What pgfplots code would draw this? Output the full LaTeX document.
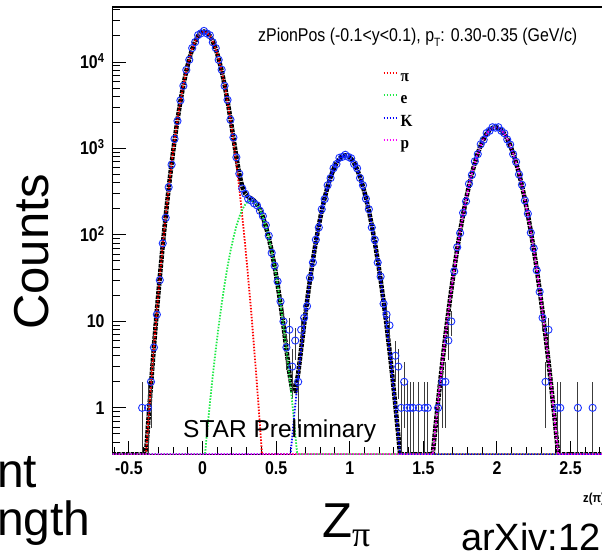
\documentclass[border=0pt]{standalone}
\usepackage{fontspec}
\setmainfont{Liberation Sans}
\newfontfamily\plotfont[FakeStretch=0.86]{Liberation Sans}
\newfontfamily\legfont[FakeStretch=0.9]{Liberation Serif}
\newfontfamily\serifplain{Liberation Serif}
\usepackage{pgfplots}
\pgfplotsset{compat=1.18}
\definecolor{dblue}{RGB}{25,50,255}
\definecolor{lgreen}{RGB}{30,235,70}
\definecolor{mag}{RGB}{255,0,255}
\definecolor{ebar}{RGB}{60,60,60}
\begin{document}
\begin{tikzpicture}
\useasboundingbox (0,0) rectangle (602pt,555pt);
\clip (0,0) rectangle (602pt,555pt);
\fill[white] (0,0) rectangle (602pt,555pt);
\begin{axis}[
  at={(112.7pt,100.7pt)}, anchor=south west,
  scale only axis, width=502pt, height=447.3pt,
  xmin=-0.61, xmax=2.8,
  ymode=log, ymin=0.29, ymax=43300,
  clip=true,
  axis line style={line width=1.5pt},
  tick pos=left,
  tick style={black, line width=1pt},
  major tick length=13pt, minor tick length=7pt,
  xtick={-0.5,0,0.5,1,1.5,2,2.5},
  xticklabels={-0.5,0,0.5,1,1.5,2,2.5},
  minor xtick={-0.6,-0.4,-0.3,-0.2,-0.1,0.1,0.2,0.3,0.4,0.6,0.7,0.8,0.9,1.1,1.2,1.3,1.4,1.6,1.7,1.8,1.9,2.1,2.2,2.3,2.4,2.6,2.7},
  ytick={1,10,100,1000,10000},
  yticklabels={1,10,10\textsuperscript{2},10\textsuperscript{3},10\textsuperscript{4}},
  minor ytick={0.3,0.4,0.5,0.6,0.7,0.8,0.9,2,3,4,5,6,7,8,9,20,30,40,50,60,70,80,90,200,300,400,500,600,700,800,900,2000,3000,4000,5000,6000,7000,8000,9000,20000,30000,40000},
  xticklabel style={anchor=north, inner sep=0pt, yshift=-7.5pt, font=\plotfont\bfseries\fontsize{18.5}{20}\selectfont},
  yticklabel style={anchor=base east, inner sep=0pt, xshift=-8pt, yshift=-6.5pt, font=\plotfont\bfseries\fontsize{18.5}{20}\selectfont},
  legend cell align=left,
  legend image code/.code={\draw[#1] (0pt,4.5pt) -- (13pt,4.5pt);},
  legend style={at={(axis description cs:0.5375,0.861)}, anchor=north west, draw=none, fill=none, inner sep=0pt, row sep=6.5pt, column sep=3pt,
    font=\legfont\bfseries\fontsize{17}{18}\selectfont, nodes={inner sep=0pt, text height=12pt, text depth=4pt}},
]
% total fit
\addplot[black, line width=4.5pt, dash pattern=on 3.5pt off 1pt, forget plot] coordinates {
(-0.61,0.29) (-0.384,0.29) (-0.37,0.632) (-0.35,1.85) (-0.33,5.11) (-0.31,13.3) (-0.29,32.7) (-0.27,76) (-0.25,166) (-0.23,344) (-0.21,670) (-0.19,1234) (-0.17,2142) (-0.15,3509) (-0.13,5423) (-0.11,7907) (-0.09,10890) (-0.07,14130) (-0.05,17320) (-0.03,20040) (-0.01,21830) (0.01,22490) (0.03,21831) (0.05,20041) (0.07,17322) (0.09,14135) (0.11,10899) (0.13,7923) (0.15,5450) (0.17,3552) (0.19,2207) (0.21,1327) (0.23,796) (0.25,505) (0.27,362) (0.29,301) (0.31,277) (0.33,264) (0.35,249) (0.37,227) (0.39,196.5) (0.41,161.4) (0.43,125.9) (0.45,92.9) (0.47,64.9) (0.49,42.9) (0.51,26.8) (0.53,15.85) (0.55,8.87) (0.57,4.78) (0.59,2.56) (0.61,1.60) (0.63,1.57) (0.65,2.50) (0.67,4.77) (0.69,9.15) (0.71,17.0) (0.73,30.2) (0.75,51.3) (0.77,83.2) (0.79,129) (0.81,191) (0.83,269) (0.85,363) (0.87,468) (0.89,575) (0.91,676) (0.93,759) (0.95,813) (0.97,832) (0.99,813) (1.01,759) (1.03,676) (1.05,575) (1.07,468) (1.09,363) (1.11,269) (1.13,191) (1.15,129) (1.17,83.2) (1.19,51.3) (1.21,30.2) (1.23,17.0) (1.25,9.12) (1.27,4.68) (1.29,2.29) (1.31,1.07) (1.33,0.479) (1.342,0.29) (1.564,0.29) (1.57,0.366) (1.59,0.805) (1.61,1.70) (1.63,3.47) (1.65,6.80) (1.67,12.8) (1.69,23.3) (1.71,40.6) (1.73,68.3) (1.75,110.4) (1.77,171.8) (1.79,257.2) (1.81,370.5) (1.83,514) (1.85,685) (1.87,880) (1.89,1087) (1.91,1293) (1.93,1479) (1.95,1628) (1.97,1725) (1.99,1758) (2.01,1725) (2.03,1628) (2.05,1479) (2.07,1293) (2.09,1087) (2.11,880) (2.13,685) (2.15,514) (2.17,370.5) (2.19,257.2) (2.21,171.8) (2.23,110.4) (2.25,68.3) (2.27,40.6) (2.29,23.3) (2.31,12.8) (2.33,6.80) (2.35,3.47) (2.37,1.70) (2.39,0.805) (2.41,0.366) (2.416,0.29) (2.8,0.29)};
% data, low counts with error bars
\addplot[only marks, mark=o, mark size=3.6pt, dblue, mark options={line width=0.9pt}, forget plot,
  error bars/.cd, y dir=both, y explicit, error mark=none, error bar style={ebar, line width=0.9pt}]
  table[x=x, y=y, y error plus=ep, y error minus=em] {
x y ep em
-0.41 1 1 0.999
-0.37 1 1 0.999
-0.35 2 1.41 1.41
-0.33 5 2.24 2.24
-0.31 12 3.46 3.46
0.55 10 3.16 3.16
0.57 5 2.24 2.24
0.59 8 2.83 2.83
0.61 3 1.73 1.73
0.63 6 2.45 2.45
0.65 2 1.41 1.41
0.67 8 2.83 2.83
0.69 11 3.32 3.32
1.25 12 3.46 3.46
1.27 9 3 3
1.31 4 2 2
1.33 3 1.73 1.73
1.35 1 1 0.999
1.37 2 1.41 1.41
1.39 1 1 0.999
1.41 1 1 0.999
1.43 1 1 0.999
1.47 1 1 0.999
1.51 1 1 0.999
1.53 1 1 0.999
1.60 1 1 0.999
1.63 2 1.41 1.41
1.65 2 1.41 1.41
1.67 6 2.45 2.45
1.69 10 3.16 3.16
2.31 11 3.32 3.32
2.33 2 1.41 1.41
2.35 8 2.83 2.83
2.41 1 1 0.999
2.43 1 1 0.999
2.55 1 1 0.999
2.65 1 1 0.999
};
% data, high counts
\addplot[only marks, mark=o, mark size=3.6pt, dblue, mark options={line width=0.9pt}, forget plot] table {
x y
-0.29 30
-0.27 80
-0.25 158
-0.23 356
-0.21 650
-0.19 1290
-0.17 2080
-0.15 3600
-0.13 5300
-0.11 8100
-0.09 10600
-0.07 14500
-0.05 17000
-0.03 20500
-0.01 21500
0.01 22900
0.03 21400
0.05 20400
0.07 16900
0.09 14500
0.11 10600
0.13 8150
0.15 5300
0.17 3650
0.19 2150
0.21 1340
0.23 790
0.25 510
0.27 345
0.29 300
0.31 262
0.33 250
0.35 232
0.37 220
0.39 190
0.41 165
0.43 130
0.45 98
0.47 62
0.49 44
0.51 29
0.53 17
0.71 15
0.73 32
0.75 48
0.77 88
0.79 122
0.81 198
0.83 260
0.85 375
0.87 455
0.89 590
0.91 660
0.93 780
0.95 800
0.97 845
0.99 800
1.01 770
1.03 660
1.05 590
1.07 455
1.09 375
1.11 262
1.13 198
1.15 122
1.17 88
1.19 48
1.21 33
1.23 16
1.71 38
1.73 72
1.75 105
1.77 180
1.79 245
1.81 390
1.83 495
1.85 710
1.87 860
1.89 1120
1.91 1260
1.93 1510
1.95 1600
1.97 1760
1.99 1740
2.01 1760
2.03 1600
2.05 1500
2.07 1270
2.09 1110
2.11 860
2.13 700
2.15 500
2.17 380
2.19 250
2.21 176
2.23 106
2.25 70
2.27 39
2.29 22
};
% components
\addplot[red, line width=1.8pt, dash pattern=on 1.5pt off 1.5pt] coordinates {
(-0.61,0.29) (-0.384,0.29) (-0.37,0.632) (-0.35,1.85) (-0.33,5.11) (-0.31,13.3) (-0.29,32.7) (-0.27,76) (-0.25,166) (-0.23,344) (-0.21,670) (-0.19,1234) (-0.17,2142) (-0.15,3509) (-0.13,5423) (-0.11,7907) (-0.09,10890) (-0.07,14130) (-0.05,17320) (-0.03,20040) (-0.01,21830) (0.01,22490) (0.03,21830) (0.05,20040) (0.07,17320) (0.09,14130) (0.11,10890) (0.13,7907) (0.15,5423) (0.17,3509) (0.19,2142) (0.21,1234) (0.23,670) (0.25,344) (0.27,166) (0.29,76) (0.31,32.7) (0.33,13.3) (0.35,5.11) (0.37,1.85) (0.39,0.632) (0.404,0.29) (2.8,0.29)};
\addlegendentry{π}
\addplot[lgreen, line width=1.8pt, dash pattern=on 1.5pt off 1.5pt] coordinates {
(-0.61,0.29) (0.017,0.29) (0.03,0.501) (0.05,1.12) (0.07,2.36) (0.09,4.70) (0.11,8.87) (0.13,15.85) (0.15,26.8) (0.17,42.9) (0.19,64.9) (0.21,92.9) (0.23,125.9) (0.25,161.4) (0.27,195.9) (0.29,224.9) (0.31,244.3) (0.33,251) (0.35,244.3) (0.37,224.9) (0.39,195.9) (0.41,161.4) (0.43,125.9) (0.45,92.9) (0.47,64.9) (0.49,42.9) (0.51,26.8) (0.53,15.85) (0.55,8.87) (0.57,4.70) (0.59,2.36) (0.61,1.12) (0.63,0.501) (0.643,0.29) (2.8,0.29)};
\addlegendentry{e}
\addplot[blue, line width=1.8pt, dash pattern=on 1.5pt off 1.5pt] coordinates {
(-0.61,0.29) (0.598,0.29) (0.61,0.479) (0.63,1.07) (0.65,2.29) (0.67,4.68) (0.69,9.12) (0.71,17.0) (0.73,30.2) (0.75,51.3) (0.77,83.2) (0.79,129) (0.81,191) (0.83,269) (0.85,363) (0.87,468) (0.89,575) (0.91,676) (0.93,759) (0.95,813) (0.97,832) (0.99,813) (1.01,759) (1.03,676) (1.05,575) (1.07,468) (1.09,363) (1.11,269) (1.13,191) (1.15,129) (1.17,83.2) (1.19,51.3) (1.21,30.2) (1.23,17.0) (1.25,9.12) (1.27,4.68) (1.29,2.29) (1.31,1.07) (1.33,0.479) (1.342,0.29) (2.8,0.29)};
\addlegendentry{K}
\addplot[mag, line width=1.8pt, dash pattern=on 1.5pt off 1.5pt] coordinates {
(-0.61,0.29) (1.564,0.29) (1.57,0.366) (1.59,0.805) (1.61,1.70) (1.63,3.47) (1.65,6.80) (1.67,12.8) (1.69,23.3) (1.71,40.6) (1.73,68.3) (1.75,110.4) (1.77,171.8) (1.79,257.2) (1.81,370.5) (1.83,514) (1.85,685) (1.87,880) (1.89,1087) (1.91,1293) (1.93,1479) (1.95,1628) (1.97,1725) (1.99,1758) (2.01,1725) (2.03,1628) (2.05,1479) (2.07,1293) (2.09,1087) (2.11,880) (2.13,685) (2.15,514) (2.17,370.5) (2.19,257.2) (2.21,171.8) (2.23,110.4) (2.25,68.3) (2.27,40.6) (2.29,23.3) (2.31,12.8) (2.33,6.80) (2.35,3.47) (2.37,1.70) (2.39,0.805) (2.41,0.366) (2.416,0.29) (2.8,0.29)};
\addlegendentry{p}
\end{axis}
% plot annotations
\node[anchor=base west, inner sep=0pt] at (258pt,513pt) {\plotfont\fontsize{18.5}{20}\selectfont zPionPos (-0.1<y<0.1), p\raisebox{-5pt}{\fontsize{12}{12}\selectfont T}: 0.30-0.35 (GeV/c)};
\node[anchor=base west, inner sep=0pt] at (183pt,118pt) {\fontsize{24.5}{28}\selectfont STAR Preliminary};
\node[anchor=base west, inner sep=0pt] at (583pt,53pt) {\plotfont\bfseries\fontsize{13}{14}\selectfont z(π)};
% slide text
\node[rotate=90, inner sep=0pt] at (32pt,303pt) {\fontsize{49}{55}\selectfont Counts};
\node[anchor=base west, inner sep=0pt] at (322pt,18pt) {\fontsize{49}{55}\selectfont Z\raisebox{-9pt}{\serifplain\fontsize{36}{40}\selectfont π}};
\node[anchor=base west, inner sep=0pt] at (-3pt,68pt) {\fontsize{48}{55}\selectfont nt};
\node[anchor=base west, inner sep=0pt] at (-3pt,20pt) {\fontsize{48}{55}\selectfont ngth};
\node[anchor=base west, inner sep=0pt] at (461pt,5pt) {\fontsize{38}{44}\selectfont arXiv:12};
\end{tikzpicture}
\end{document}
